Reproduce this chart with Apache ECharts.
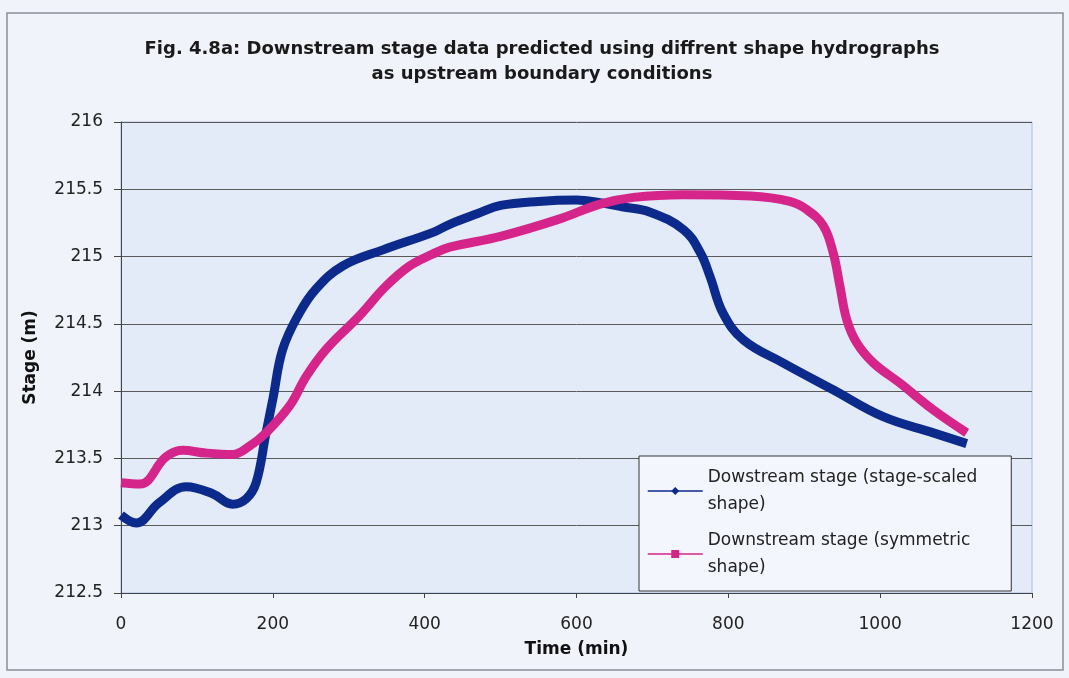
<!DOCTYPE html>
<html>
<head>
<meta charset="utf-8">
<script src="https://cdn.jsdelivr.net/npm/echarts@6/dist/echarts.min.js"></script>
<style>
  html, body { margin: 0; padding: 0; background: #f0f3f9; }
  #chart { width: 1069px; height: 678px; }
</style>
</head>
<body>
<div id="chart"></div>
<script>
'use strict';

// stage-scaled shape (time min, stage m)
let scaledTime = [0, 20, 50, 86, 120, 147, 165, 178, 191, 200, 213, 235, 257, 292, 345, 411, 433, 470, 500, 550, 600, 631, 660, 697, 741, 763, 776, 793, 820, 872, 938, 1004, 1070, 1114];
let scaledStage = [213.08, 213.02, 213.17, 213.29, 213.24, 213.16, 213.2, 213.32, 213.69, 213.94, 214.31, 214.58, 214.76, 214.93, 215.05, 215.18, 215.24, 215.32, 215.38, 215.41, 215.42, 215.40, 215.37, 215.33, 215.2, 215.03, 214.85, 214.58, 214.38, 214.21, 214.01, 213.81, 213.69, 213.61];

// symmetric shape
let symTime = [0, 25, 59, 81, 112, 147, 169, 191, 222, 244, 270, 314, 349, 380, 411, 433, 500, 578, 631, 675, 741, 829, 881, 903, 925, 938, 947, 956, 969, 991, 1026, 1070, 1114];
let symStage = [213.32, 213.31, 213.51, 213.56, 213.54, 213.53, 213.59, 213.69, 213.89, 214.11, 214.31, 214.56, 214.78, 214.93, 215.02, 215.07, 215.15, 215.28, 215.39, 215.44, 215.46, 215.45, 215.41, 215.35, 215.23, 215.03, 214.78, 214.53, 214.36, 214.21, 214.06, 213.86, 213.69];

let seriesNames = ['Dowstream stage (stage-scaled\nshape)', 'Downstream stage (symmetric\nshape)'];

let pair = function (xs, ys) {
    return xs.map(function (x, i) { return [x, ys[i]]; });
};

let myChart = echarts.init(document.getElementById('chart'));
let font = 'DejaVu Sans, Liberation Sans, sans-serif';

let option = {
    backgroundColor: '#f0f3f9',
    animation: false,
    textStyle: { fontFamily: font },
    title: {
        text: 'Fig. 4.8a: Downstream stage data predicted using diffrent shape hydrographs\nas upstream boundary conditions',
        left: 537,
        top: 32,
        textAlign: 'center',
        textStyle: { fontSize: 18, fontWeight: 'bold', color: '#1a1a1a', lineHeight: 25, fontFamily: font }
    },
    graphic: [{
        type: 'rect',
        shape: { x: 7, y: 13, width: 1056, height: 657 },
        style: { fill: 'none', stroke: '#8a8f99', lineWidth: 1.5 },
        silent: true
    }],
    legend: {
        orient: 'vertical',
        left: 639,
        top: 456,
        padding: [8, 34, 10, 8],
        itemGap: 9,
        itemWidth: 55,
        itemHeight: 10,
        backgroundColor: '#f3f6fc',
        borderColor: '#333',
        borderWidth: 1,
        borderRadius: 0,
        lineStyle: { width: 1.5 },
        textStyle: { fontSize: 17, color: '#222', lineHeight: 27, fontFamily: font },
        data: seriesNames
    },
    grid: {
        left: 121,
        right: 37,
        top: 122,
        bottom: 85,
        show: true,
        backgroundColor: '#e3ebf9',
        borderColor: '#a9bde6',
        borderWidth: 1
    },
    xAxis: {
        type: 'value',
        min: 0,
        max: 1200,
        interval: 200,
        name: 'Time (min)',
        nameLocation: 'middle',
        nameGap: 48,
        nameTextStyle: { fontSize: 17, fontWeight: 'bold', color: '#111', fontFamily: font },
        axisLine: { show: true, lineStyle: { color: '#444', width: 1 } },
        axisTick: { show: true, length: 5, lineStyle: { color: '#444' } },
        axisLabel: { fontSize: 17, color: '#222', margin: 23, formatter: function (v) { return String(v); } },
        splitLine: { show: false }
    },
    yAxis: {
        type: 'value',
        min: 212.5,
        max: 216,
        interval: 0.5,
        name: 'Stage (m)',
        nameLocation: 'middle',
        nameGap: 82,
        nameRotate: 90,
        nameTextStyle: { fontSize: 17, fontWeight: 'bold', color: '#111', fontFamily: font },
        axisLine: { show: true, lineStyle: { color: '#444', width: 1 } },
        axisTick: { show: true, length: 7, lineStyle: { color: '#444' } },
        axisLabel: { fontSize: 17, color: '#222', margin: 18 },
        splitLine: { show: true, lineStyle: { color: '#5a5a5a', width: 1 } }
    },
    series: [{
        name: seriesNames[0],
        type: 'line',
        smooth: 0.4,
        symbol: 'diamond',
        symbolSize: 11,
        showSymbol: false,
        color: '#0b2a8c',
        lineStyle: { width: 9, color: '#0b2a8c' },
        data: pair(scaledTime, scaledStage)
    }, {
        name: seriesNames[1],
        type: 'line',
        smooth: 0.4,
        symbol: 'rect',
        symbolSize: 10,
        showSymbol: false,
        color: '#d6258a',
        lineStyle: { width: 9, color: '#d6258a' },
        data: pair(symTime, symStage)
    }]
};

myChart.setOption(option);
</script>
</body>
</html>
